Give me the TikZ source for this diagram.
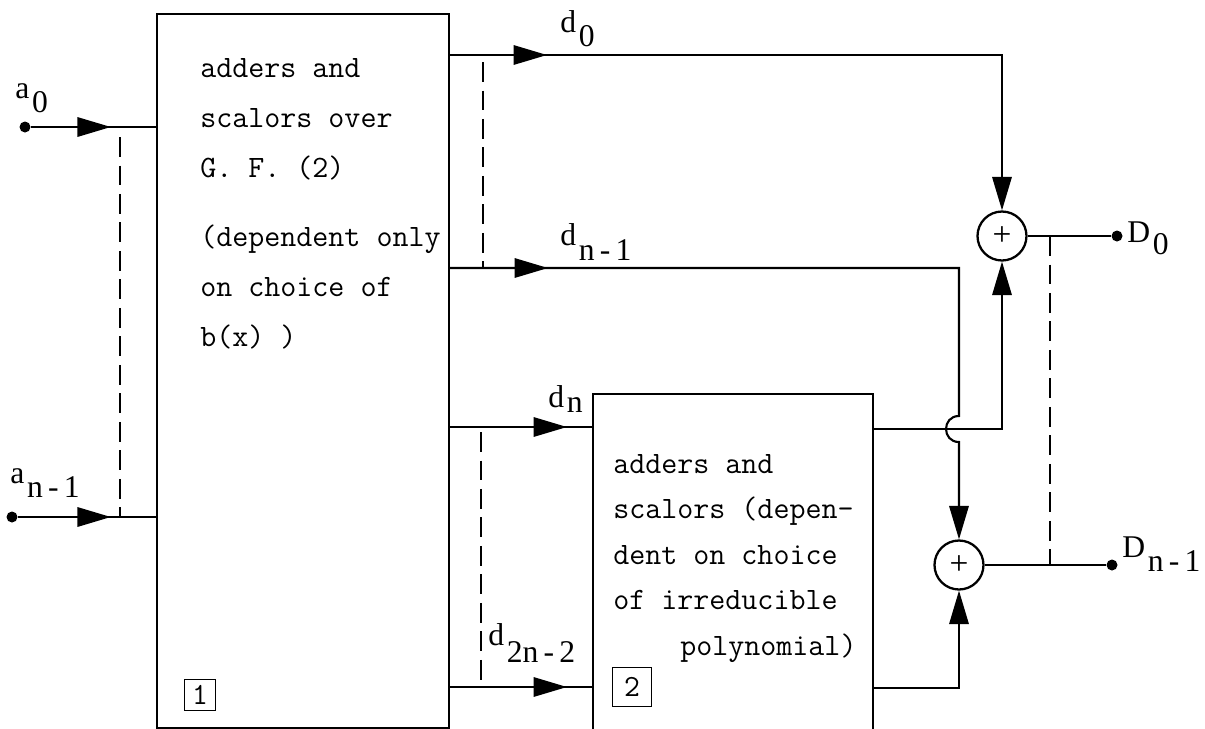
\documentclass[tikz,border=0pt]{standalone}
\usepackage{fontspec}
\setmainfont{Liberation Serif}
\usetikzlibrary{arrows.meta,decorations.markings}
\newcommand\lab[3][8pt]{#2\hspace{1.5pt}\raisebox{-#1}{#3}}
\begin{document}
\begin{tikzpicture}[x=0.02cm,y=-0.02cm,
  wire/.style={line width=1.2pt},
  flowend/.style={-{Triangle[length=19pt,width=11pt]}},
  flowat/.style={postaction={decorate},decoration={markings,
    mark=at position #1 with {\arrow{Triangle[length=19pt,width=11pt]}}}},
  busline/.style={line width=1pt,dash pattern=on 0.4cm off 0.17cm},
  block/.style={draw,line width=1.3pt,anchor=north west,inner sep=0pt},
  tag/.style={draw,line width=1pt,inner sep=0pt,font=\ttfamily\fontsize{17.5}{17.5}\selectfont},
  adder/.style={draw,circle,line width=1.3pt,minimum size=0.98cm,inner sep=0pt,font=\fontsize{19}{19}\selectfont},
  port/.style={circle,fill,inner sep=0pt,minimum size=0.22cm},
  boxtext/.style={anchor=base west,inner sep=0pt,font=\ttfamily\fontsize{17.7}{17.7}\selectfont},
  sig/.style={anchor=base west,inner sep=0pt,font=\fontsize{18}{18}\selectfont}]
\useasboundingbox (0,0) rectangle (1205,728);

% the two blocks
\node[block,minimum width=5.84cm,minimum height=14.28cm] (B1) at (156,13) {};
\node[block,minimum width=5.6cm,minimum height=6.8cm] (B2) at (592,393) {};
\node[tag,minimum size=0.62cm] (T1) at (200,695) {1};
\node[tag,minimum size=0.78cm] (T2) at (632,687) {2};
\foreach \y/\txt [count=\i] in {77/adders and,127/scalors over,177/G. F. (2),
    246/(dependent only,296/on choice of,346/b(x) )}
  \node[boxtext] (one-\i) at (200,\y) {\txt};
\foreach \y/\txt [count=\i] in {473/adders and,518/scalors (depen-,
    564/dent on choice,609/of irreducible}
  \node[boxtext] (two-\i) at (613,\y) {\txt};
\node[boxtext] (two-5) at (680,655) {polynomial)};

% ports and adders
\node[port] (a0) at (25,127) {};
\node[port] (an) at (12,517) {};
\node[adder] (S1) at (1002,236) {+};
\node[adder] (S2) at (959,565) {+};
\node[port] (D0) at (1117,236) {};
\node[port] (Dn) at (1112,565) {};

\coordinate (d0) at (448,55);
\coordinate (dn1) at (448,268);
\coordinate (dn) at (448,427);
\coordinate (d2n) at (448,687);
\coordinate (e0) at (872,429);
\coordinate (e1) at (872,688);

% inputs
\draw[wire,flowat=1.6cm] (a0) -- (a0 -| B1.west);
\draw[wire,flowat=1.86cm] (an) -- (an -| B1.west);

% block 1 outputs
\draw[wire,flowat=1.98cm,flowend] (d0) -- (d0 -| S1) -- (S1.north);
\draw[wire,flowat=2cm,flowend] (dn1) -- (dn1 -| S2) -- (959,416)
  .. controls (941.7,416) and (941.7,442) .. (959,442) -- (S2.north);
\draw[wire,flowat=2.38cm] (dn) -- (dn -| B2.west);
\draw[wire,flowat=2.38cm] (d2n) -- (d2n -| B2.west);

% block 2 outputs
\draw[wire,flowend] (e0) -- (e0 -| S1) -- (S1.south);
\draw[wire,flowend] (e1) -- (e1 -| S2) -- (S2.south);
\draw[wire] (S1) -- (D0);
\draw[wire] (S2) -- (Dn);

% bus marks
\draw[busline] (120,137) -- (120,517);
\draw[busline] (483,62) -- (483,268);
\draw[busline] (481,432) -- (481,687);
\draw[busline] (1050,236) -- (1050,565);

% signal names
\node[sig] (la0) at (15,98) {\lab{a}{0}};
\node[sig] (lan) at (10,483) {\lab{a}{n\,-\,1}};
\node[sig] (ld0) at (560,32) {\lab{d}{0}};
\node[sig] (ldn1) at (560,245) {\lab[9pt]{d}{n\,-\,1}};
\node[sig] (ldn) at (548,407) {\lab[3pt]{d}{n}};
\node[sig] (ld2n) at (488,645) {\lab[10pt]{d}{2n\,-\,2}};
\node[sig] (lD0) at (1127,242) {\lab[7pt]{D}{0}};
\node[sig] (lDn) at (1122,557) {\lab{D}{n\,-\,1}};
\end{tikzpicture}
\end{document}
